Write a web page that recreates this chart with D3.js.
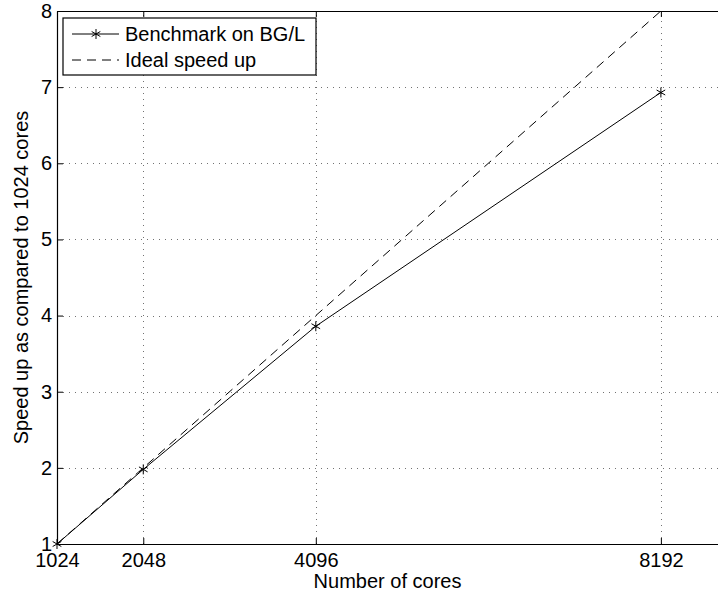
<!DOCTYPE html>
<html>
<head>
<meta charset="utf-8">
<script src="https://cdn.jsdelivr.net/npm/d3@7"></script>
<style>
  body { margin: 0; background: #fff; }
  svg { display: block; }
  svg text { font-family: "Liberation Sans", Arial, sans-serif; }
</style>
</head>
<body>
<div id="chart"></div>
<script>
// data
const cores = [1024, 2048, 4096, 8192];
const benchmark = [1, 1.98, 3.86, 6.93];
const ideal = [1, 2, 4, 8];
const xTicks = [1024, 2048, 4096, 8192];
const yTicks = [1, 2, 3, 4, 5, 6, 7, 8];
const xDomain = [1024, 8870];
const yDomain = [1, 8];

const width = 718, height = 595;
const margin = { top: 11, right: 0, bottom: 51, left: 57 };
const fontSize = '20px';

const svg = d3.select('#chart')
  .append('svg')
  .attr('width', width)
  .attr('height', height);

const x = d3.scaleLinear().domain(xDomain).range([margin.left, width - margin.right]);
const y = d3.scaleLinear().domain(yDomain).range([height - margin.bottom, margin.top]);

// grid (dotted)
const grid = svg.append('g')
  .attr('stroke', '#000')
  .attr('stroke-width', 1)
  .attr('stroke-dasharray', '1,5')
  .attr('opacity', 0.55);

grid.selectAll('line.gx')
  .data(xTicks.slice(1))
  .join('line')
  .attr('x1', d => Math.round(x(d)) + 0.5)
  .attr('x2', d => Math.round(x(d)) + 0.5)
  .attr('y1', y(yDomain[0]))
  .attr('y2', y(yDomain[1]));

grid.selectAll('line.gy')
  .data(yTicks.slice(1, -1))
  .join('line')
  .attr('x1', x(xDomain[0]))
  .attr('x2', x(xDomain[1]))
  .attr('y1', d => Math.round(y(d)) + 0.5)
  .attr('y2', d => Math.round(y(d)) + 0.5);

// axes
const xAxis = svg.append('g')
  .attr('transform', `translate(0,${y(yDomain[0])})`)
  .call(d3.axisBottom(x).tickValues(xTicks).tickFormat(d3.format('d'))
    .tickSizeInner(-6).tickSizeOuter(0).tickPadding(9));

const xTop = svg.append('g')
  .attr('transform', `translate(0,${y(yDomain[1])})`)
  .call(d3.axisTop(x).tickValues(xTicks).tickSizeInner(-6).tickSizeOuter(0).tickFormat(''));

const yAxis = svg.append('g')
  .attr('transform', `translate(${x(xDomain[0])},0)`)
  .call(d3.axisLeft(y).tickValues(yTicks).tickFormat(d3.format('d'))
    .tickSizeInner(-6).tickSizeOuter(0).tickPadding(5));

[xAxis, xTop, yAxis].forEach(a => {
  a.attr('font-family', null).attr('font-size', null);
  a.select('.domain').attr('stroke', '#000').attr('stroke-width', 1.2);
  a.selectAll('.tick line').attr('stroke', '#000');
  a.selectAll('.tick text').attr('font-size', fontSize).attr('fill', '#000');
});

// axis titles
svg.append('text')
  .attr('x', (x(xDomain[0]) + x(xDomain[1])) / 2)
  .attr('y', 588)
  .attr('text-anchor', 'middle')
  .attr('font-size', fontSize)
  .text('Number of cores');

svg.append('text')
  .attr('transform', `translate(28,${(y(yDomain[0]) + y(yDomain[1])) / 2}) rotate(-90)`)
  .attr('text-anchor', 'middle')
  .attr('font-size', fontSize)
  .text('Speed up as compared to 1024 cores');

// lines
const line = d3.line().x(d => x(d[0])).y(d => y(d[1]));

svg.append('path')
  .datum(cores.map((c, i) => [c, ideal[i]]))
  .attr('d', line)
  .attr('fill', 'none')
  .attr('stroke', '#000')
  .attr('stroke-width', 1)
  .attr('stroke-dasharray', '9,6');

const benchPts = cores.map((c, i) => [c, benchmark[i]]);
svg.append('path')
  .datum(benchPts)
  .attr('d', line)
  .attr('fill', 'none')
  .attr('stroke', '#000')
  .attr('stroke-width', 1);

const star = d3.symbol().type(d3.symbolAsterisk).size(70);
svg.selectAll('path.mark')
  .data(benchPts)
  .join('path')
  .attr('class', 'mark')
  .attr('transform', d => `translate(${x(d[0])},${y(d[1])})`)
  .attr('d', star)
  .attr('fill', 'none')
  .attr('stroke', '#000')
  .attr('stroke-width', 1);

// legend
const legend = svg.append('g').attr('transform', 'translate(63,18)');
legend.append('rect')
  .attr('width', 253)
  .attr('height', 57)
  .attr('fill', '#fff')
  .attr('stroke', '#000')
  .attr('stroke-width', 1.2);

const items = [
  { name: 'Benchmark on BG/L', dash: null, marker: true },
  { name: 'Ideal speed up', dash: '9,6', marker: false }
];

items.forEach((it, i) => {
  const g = legend.append('g').attr('transform', `translate(0,${16 + i * 26})`);
  g.append('line')
    .attr('x1', 9).attr('x2', 56)
    .attr('stroke', '#000')
    .attr('stroke-width', 1)
    .attr('stroke-dasharray', it.dash);
  if (it.marker) {
    g.append('path')
      .attr('transform', 'translate(33,0)')
      .attr('d', star)
      .attr('fill', 'none')
      .attr('stroke', '#000');
  }
  g.append('text')
    .attr('x', 62)
    .attr('dy', '0.35em')
    .attr('font-size', fontSize)
    .text(it.name);
});
</script>
</body>
</html>
